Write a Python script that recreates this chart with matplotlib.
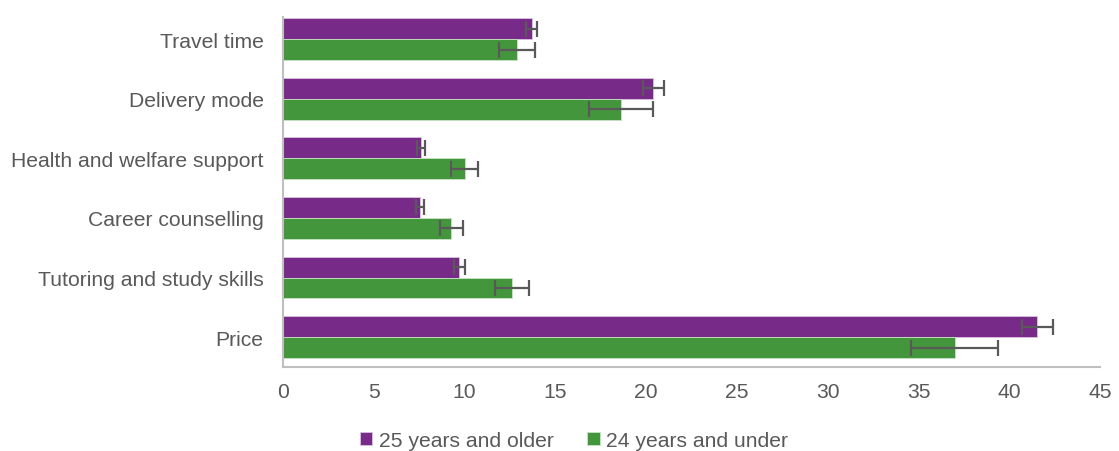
import numpy as np
import matplotlib
matplotlib.use('Agg')
import matplotlib.pyplot as plt

categories = ['Travel time', 'Delivery mode', 'Health and welfare support',
              'Career counselling', 'Tutoring and study skills', 'Price']
older = [13.7, 20.4, 7.6, 7.55, 9.7, 41.55]
older_err = [0.3, 0.6, 0.2, 0.22, 0.3, 0.85]
younger = [12.9, 18.6, 10.0, 9.27, 12.6, 37.0]
younger_err = [1.0, 1.75, 0.75, 0.65, 0.95, 2.4]
xticks = [0, 5, 10, 15, 20, 25, 30, 35, 40, 45]

purple = '#782A88'
green = '#43963B'
grey = '#595959'

plt.rcParams['font.family'] = ['Liberation Sans', 'DejaVu Sans']

fig = plt.figure(figsize=(11.19, 4.52), dpi=100)
ax = fig.add_axes([0.253, 0.186, 0.730, 0.774])

y = np.arange(len(categories))
h = 0.35
ekw = dict(ecolor=grey, elinewidth=1.6, capsize=5.5, capthick=1.6)
ax.barh(y - h / 2, older, height=h, color=purple, edgecolor='#D9C3DE', linewidth=0.6,
        xerr=older_err, error_kw=ekw, label='25 years and older')
ax.barh(y + h / 2, younger, height=h, color=green, edgecolor='#C8E2C5', linewidth=0.6,
        xerr=younger_err, error_kw=ekw, label='24 years and under')

ax.set_yticks(y)
ax.set_yticklabels(categories)
ax.set_ylim(5.5, -0.37)
ax.set_xlim(0, 45)
ax.set_xticks(xticks)

for s in ['top', 'right']:
    ax.spines[s].set_visible(False)
for s in ['left', 'bottom']:
    ax.spines[s].set_color('#BFBFBF')
    ax.spines[s].set_linewidth(1.5)
ax.tick_params(length=0, labelsize=15.2, colors=grey)
ax.tick_params(axis='y', pad=14)
ax.tick_params(axis='x', pad=11)

fig.legend(loc='center', bbox_to_anchor=(0.513, 0.024), ncol=2, frameon=False,
           fontsize=15.2, labelcolor=grey, handlelength=0.6, handleheight=0.6,
           handletextpad=0.3, columnspacing=1.6)

fig.savefig('out.png', dpi=100)
